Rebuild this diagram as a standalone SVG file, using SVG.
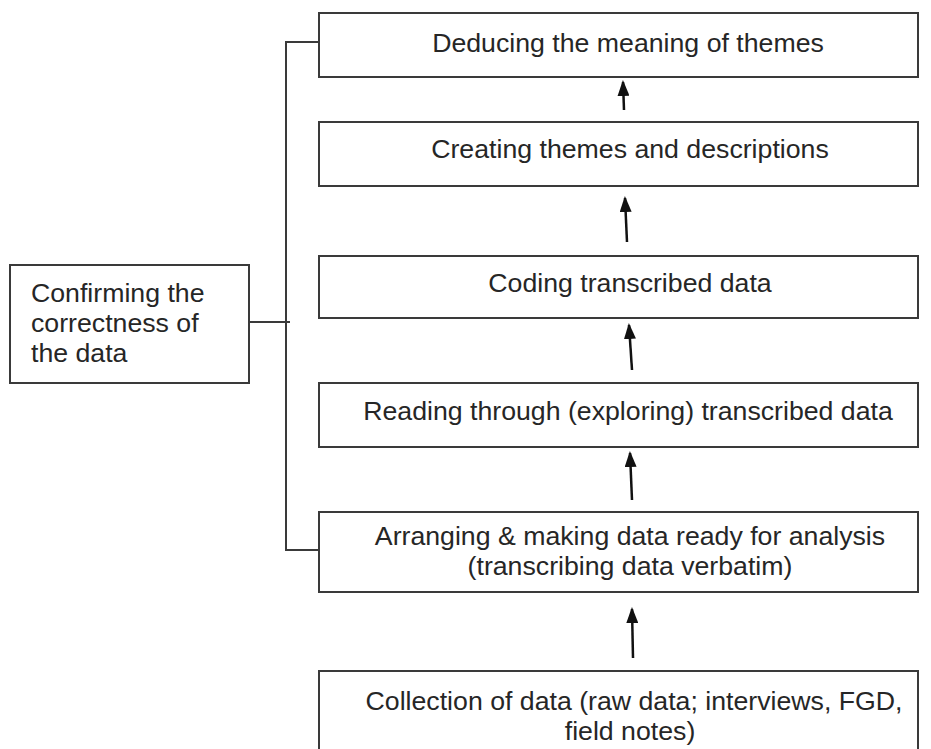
<svg xmlns="http://www.w3.org/2000/svg" width="931" height="749" viewBox="0 0 931 749">
<style>
.box{fill:#fff;stroke:#3a3a3a;stroke-width:2}
.t{font-family:"Liberation Sans",Arial,sans-serif;font-size:26.7px;fill:#262626}
.c{text-anchor:middle}
.ln{fill:none;stroke:#3a3a3a;stroke-width:2}
.ar{fill:none;stroke:#111;stroke-width:2.5;marker-end:url(#ah)}
</style>
<defs>
<marker id="ah" viewBox="0 0 16 12" refX="14" refY="6" markerWidth="16" markerHeight="12" markerUnits="userSpaceOnUse" orient="auto">
<path d="M0 0 L16 6 L0 12 Z" fill="#111"/>
</marker>
</defs>
<rect width="931" height="749" fill="#fff"/>
<g id="connectors">
<polyline class="ln" points="319,42 286,42 286,550 319,550"/>
<line class="ln" x1="249" y1="322" x2="290" y2="322"/>
<line class="ar" x1="624" y1="110" x2="623" y2="82"/>
<line class="ar" x1="627" y1="242" x2="625" y2="198"/>
<line class="ar" x1="632" y1="370" x2="629" y2="325"/>
<line class="ar" x1="632" y1="500" x2="630" y2="453"/>
<line class="ar" x1="633" y1="658" x2="632" y2="609"/>
</g>
<g id="n1"><rect class="box" x="319" y="13" width="599" height="64"/><text class="t c" x="628" y="52">Deducing the meaning of themes</text></g>
<g id="n2"><rect class="box" x="319" y="122" width="599" height="64"/><text class="t c" x="630" y="158">Creating themes and descriptions</text></g>
<g id="n3"><rect class="box" x="319" y="256" width="599" height="62"/><text class="t c" x="630" y="292">Coding transcribed data</text></g>
<g id="n4"><rect class="box" x="319" y="383" width="599" height="64"/><text class="t c" x="628" y="420">Reading through (exploring) transcribed data</text></g>
<g id="n5"><rect class="box" x="319" y="512" width="599" height="80"/><text class="t c" x="630" y="545">Arranging &amp; making data ready for analysis</text><text class="t c" x="630" y="575">(transcribing data verbatim)</text></g>
<g id="n6"><rect class="box" x="319" y="671" width="599" height="90"/><text class="t c" x="634" y="710">Collection of data (raw data; interviews, FGD,</text><text class="t c" x="630" y="740">field notes)</text></g>
<g id="n0"><rect class="box" x="10" y="265" width="239" height="118"/><text class="t" x="31" y="302">Confirming the</text><text class="t" x="31" y="332">correctness of</text><text class="t" x="31" y="362">the data</text></g>
</svg>
